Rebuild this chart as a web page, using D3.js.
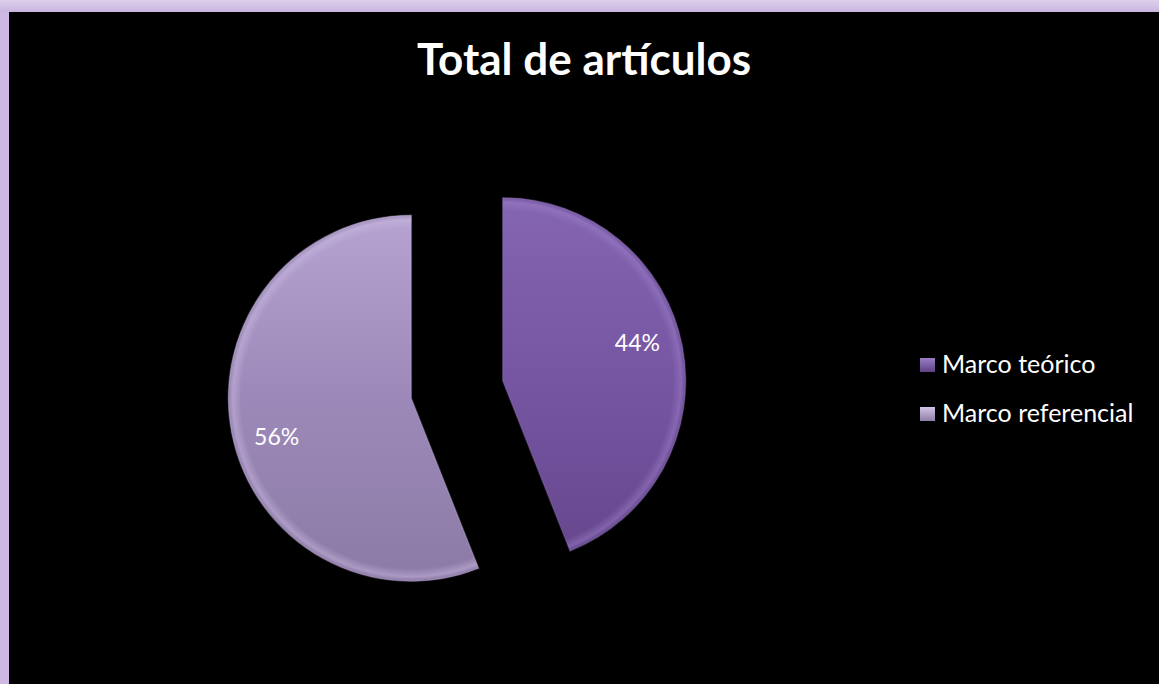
<!DOCTYPE html>
<html><head><meta charset="utf-8">
<script src="https://cdn.jsdelivr.net/npm/d3@7"></script>
<style>html,body{margin:0;padding:0;background:#000;}svg{display:block;}</style>
</head><body>
<svg id="c" width="1159" height="684"></svg>
<script>
const title = "Total de artículos";
const categories = ["Marco teórico", "Marco referencial"];
const values = [44, 56];
const labels = ["44%", "56%"];

const W = 1159, H = 684;
const svg = d3.select("#c");
const defs = svg.append("defs");

// frame
svg.append("rect").attr("width", W).attr("height", H).attr("fill", "#cdb9e1");
const tg = defs.append("linearGradient").attr("id","topg").attr("x1",0).attr("y1",0).attr("x2",0).attr("y2",1);
tg.append("stop").attr("offset",0).attr("stop-color","#ddd0ea");
tg.append("stop").attr("offset",1).attr("stop-color","#c9b5df");
svg.append("rect").attr("width", W).attr("height", 12).attr("fill", "url(#topg)");
svg.append("rect").attr("x", 9).attr("y", 12).attr("width", W - 9).attr("height", H - 12).attr("fill", "#000");

// title
svg.append("text").attr("x", 584).attr("y", 75).attr("text-anchor", "middle")
  .attr("font-family", "Lato, 'Open Sans', sans-serif").attr("font-weight", "bold")
  .attr("font-size", 44).attr("fill", "#fff").text(title);

// gradients for slices
const cols = [
  {top:"#8566b3", mid:"#7655a2", bot:"#65468c", edge:"#9a7dc6"},
  {top:"#b7a4d2", mid:"#9d89b9", bot:"#8b7aa5", edge:"#c9b9e0"}
];
cols.forEach((c,i)=>{
  const g = defs.append("linearGradient").attr("id","sg"+i).attr("gradientUnits","userSpaceOnUse")
    .attr("x1",0).attr("y1",-190).attr("x2",0).attr("y2",190);
  g.append("stop").attr("offset",0).attr("stop-color",c.top);
  g.append("stop").attr("offset",0.5).attr("stop-color",c.mid);
  g.append("stop").attr("offset",1).attr("stop-color",c.bot);
});

const cx = 457, cy = 389.5, R = 183, explode = 46.5;
const pie = d3.pie().sort(null).value(d => d)(values);
const arc = d3.arc().innerRadius(0).outerRadius(R);
const lblR = 140, lblRot = -5 * Math.PI / 180;

const g = svg.append("g").attr("transform", `translate(${cx},${cy})`);
pie.forEach((p, i) => {
  const mid = (p.startAngle + p.endAngle) / 2;
  const dx = Math.sin(mid) * explode, dy = -Math.cos(mid) * explode;
  const sg = g.append("g").attr("transform", `translate(${dx},${dy})`);
  sg.append("path").attr("d", arc(p)).attr("fill", `url(#sg${i})`);
  // subtle bevel rim
  const rg = defs.append("radialGradient").attr("id","rg"+i).attr("gradientUnits","userSpaceOnUse")
    .attr("cx",0).attr("cy",0).attr("r",R);
  rg.append("stop").attr("offset",0.93).attr("stop-color",cols[i].edge).attr("stop-opacity",0);
  rg.append("stop").attr("offset",0.975).attr("stop-color",cols[i].edge).attr("stop-opacity",0.5);
  rg.append("stop").attr("offset",1).attr("stop-color",cols[i].bot).attr("stop-opacity",0.4);
  sg.append("path").attr("d", arc(p)).attr("fill", `url(#rg${i})`);
  sg.append("path").attr("d", arc(p)).attr("fill", "none")
    .attr("stroke", cols[i].edge).attr("stroke-opacity", 0.3).attr("stroke-width", 1.5);
  const a = mid + lblRot;
  const lx = Math.sin(a) * lblR, ly = -Math.cos(a) * lblR;
  sg.append("text").attr("x", lx).attr("y", ly + 8.5).attr("text-anchor", "middle")
    .attr("font-family", "Lato, 'Open Sans', sans-serif").attr("font-size", 23).attr("fill", "#fff")
    .text(labels[i]);
});

// legend
const legFill = [
  {a:"#9a7dc6", b:"#5e4283"},
  {a:"#d2c4e6", b:"#8f7ea9"}
];
legFill.forEach((c,i)=>{
  const lg = defs.append("linearGradient").attr("id","lg"+i).attr("x1",0).attr("y1",0).attr("x2",0).attr("y2",1);
  lg.append("stop").attr("offset",0).attr("stop-color",c.a);
  lg.append("stop").attr("offset",1).attr("stop-color",c.b);
});
const leg = svg.append("g");
categories.forEach((name, i) => {
  const base = 373 + i * 49;
  leg.append("rect").attr("x", 920).attr("y", base - 15).attr("width", 15).attr("height", 14)
    .attr("fill", `url(#lg${i})`);
  leg.append("text").attr("x", 942).attr("y", base)
    .attr("font-family", "Lato, 'Open Sans', sans-serif").attr("font-size", 25).attr("fill", "#fff")
    .text(name);
});
</script>
</body></html>
